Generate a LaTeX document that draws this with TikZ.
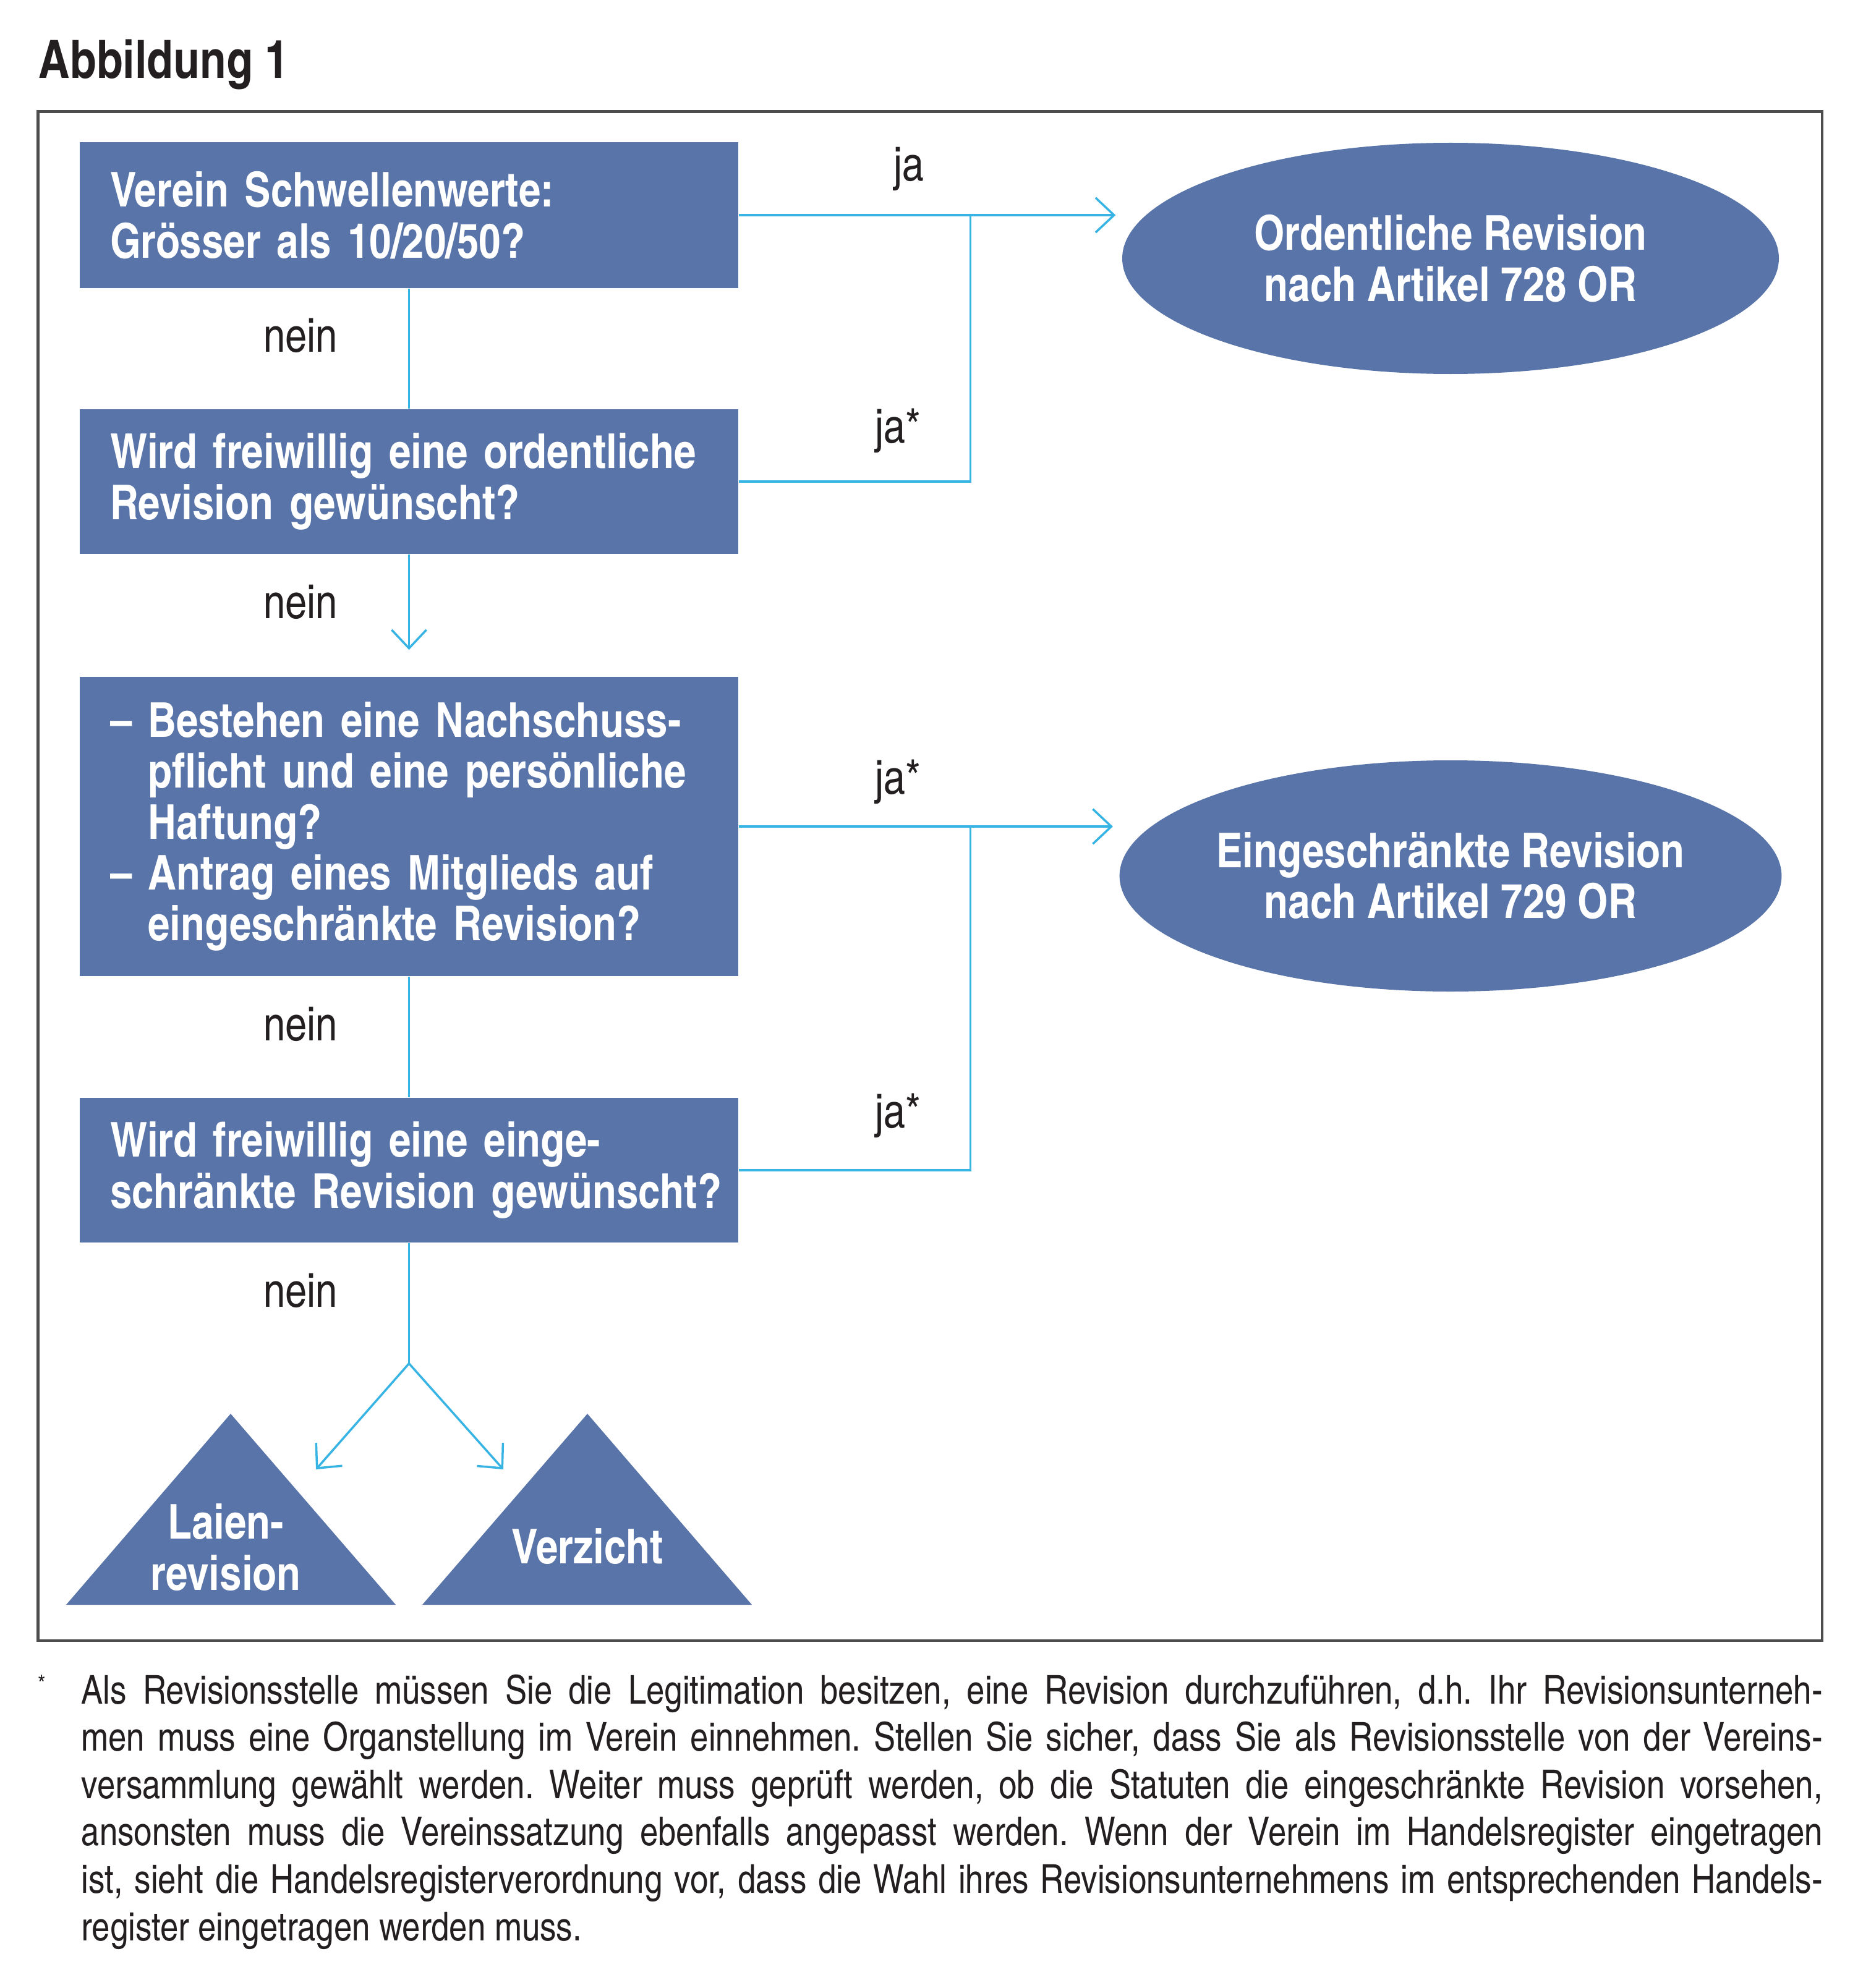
\documentclass[tikz,border=0pt]{standalone}
\usepackage{fontspec}
\setmainfont{TeX Gyre Heros Cn}
\usetikzlibrary{shapes.geometric, arrows.meta, positioning, calc}
\definecolor{boxblue}{RGB}{88,116,168}
\definecolor{linecyan}{RGB}{56,180,228}
\definecolor{framegray}{RGB}{77,77,77}
\definecolor{txtdark}{RGB}{35,31,32}
\newcommand\qfont{\fontsize{22.1}{23.4}\selectfont\bfseries}
\newcommand\lblfont{\fontsize{22}{24}\selectfont}
\newcommand\notefont{\fontsize{18.3}{21.8}\selectfont\frenchspacing}
\tikzset{
  qbox/.style={rectangle, fill=boxblue, text=white, minimum width=10.65cm,
    text width=9.67cm, inner xsep=0.49cm, align=left, font=\qfont},
  ellnode/.style={ellipse, fill=boxblue, text=white, minimum width=10.62cm,
    minimum height=3.74cm, inner sep=0pt, align=center, font=\qfont},
  trilabel/.style={text=white, align=center, font=\qfont, inner sep=0pt},
  lbl/.style={text=txtdark, font=\lblfont, inner sep=0pt},
  arrow/.style={-{Straight Barb[length=8.5pt,width=16pt]}, line width=1pt, color=linecyan},
  line/.style={line width=1pt, color=linecyan}
}

\begin{document}
\begin{tikzpicture}
  \useasboundingbox (0,0) rectangle (30.25,-32.16);
  % title and frame
  \node[font=\fontsize{24.3}{27}\selectfont\bfseries, text=txtdark, anchor=base west, inner sep=0pt]
    (title) at (0.62,-1.27) {Abbildung 1};
  \draw[framegray, line width=1.2pt] (0.615,-1.805) rectangle (29.47,-26.54);

  % questions
  \node[qbox, minimum height=2.36cm] (q1) at (6.615,-3.48)
    {Verein Schwellenwerte:\\ Grösser als 10/20/50?};
  \node[qbox, minimum height=2.34cm] (q2) at (6.615,-7.79)
    {Wird freiwillig eine ordentliche\\ Revision gewünscht?};
  \node[qbox, minimum height=4.84cm] (q3) at (6.615,-13.37)
    {– Bestehen eine Nachschuss-\\ \phantom{– }pflicht und eine persönliche\\
     \phantom{– }Haftung?\\ – Antrag eines Mitglieds auf\\ \phantom{– }eingeschränkte Revision?};
  \node[qbox, minimum height=2.34cm] (q4) at (6.615,-18.93)
    {Wird freiwillig eine einge-\\ \mbox{schränkte Revision gewünscht?}};

  % results
  \node[ellnode] (ord) at (23.46,-4.18) {Ordentliche Revision\\ nach Artikel 728 OR};
  \node[ellnode] (eing) at (23.46,-14.17) {Eingeschränkte Revision\\ nach Artikel 729 OR};

  \fill[boxblue] (1.07,-25.96) -- (3.73,-22.87) -- (6.40,-25.96) -- cycle;
  \fill[boxblue] (6.83,-25.96) -- (9.50,-22.87) -- (12.16,-25.96) -- cycle;
  \node[trilabel] (laien) at (3.65,-25.03) {Laien-\\revision};
  \node[trilabel] (verzicht) at (9.50,-25.02) {Verzicht};

  % connectors
  \coordinate (j1) at ($(q1.east)+(3.75,0)$);
  \coordinate (j2) at ($(q3.east)+(3.75,0)$);
  \draw[arrow] (q1.east) -- ([xshift=-0.1cm]ord.west |- q1.east);
  \draw[line] (q2.east) -| (j1);
  \draw[arrow] (q3.east) -- ([xshift=-0.1cm]eing.west |- q3.east);
  \draw[line] (q4.east) -| (j2);
  \draw[line] (q1.south) -- (q2.north);
  \draw[arrow] (q2.south) -- ([yshift=0.43cm]q3.north);
  \draw[line] (q3.south) -- (q4.north);
  \coordinate (split) at ($(q4.south)+(0,-1.95)$);
  \coordinate (tl) at (5.11,-23.77);
  \coordinate (tr) at (8.14,-23.77);
  \draw[line] (q4.south) -- (split);
  \draw[arrow] (split) -- (tl);
  \draw[arrow] (split) -- (tr);

  % labels
  \node[lbl] (ja1) at (14.70,-2.73) {ja};
  \node[lbl] (ja2) at (14.52,-6.97) {ja*};
  \node[lbl] (ja3) at (14.52,-12.65) {ja*};
  \node[lbl] (ja4) at (14.52,-18.05) {ja*};
  \node[lbl] (nein1) at (4.86,-5.43) {nein};
  \node[lbl] (nein2) at (4.86,-9.74) {nein};
  \node[lbl] (nein3) at (4.86,-16.57) {nein};
  \node[lbl] (nein4) at (4.86,-20.88) {nein};

  % footnote
  \node[font=\fontsize{11}{13}\selectfont, text=txtdark, inner sep=0pt] (star) at (0.68,-27.24) {*};
  \node[anchor=north west, text width=28.16cm, align=justify, font=\notefont,
    text=txtdark, inner sep=0pt] (note) at (1.31,-27.08)
    {Als Revisionsstelle müssen Sie die Legitimation besitzen, eine Revision durchzuführen, d.h. Ihr Revisionsunterneh-\linebreak
     men muss eine Organstellung im Verein einnehmen. Stellen Sie sicher, dass Sie als Revisionsstelle von der Vereins-\linebreak
     versammlung gewählt werden. Weiter muss geprüft werden, ob die Statuten die eingeschränkte Revision vorsehen,\linebreak
     ansonsten muss die Vereinssatzung ebenfalls angepasst werden. Wenn der Verein im Handelsregister eingetragen\linebreak
     ist, sieht die Handelsregisterverordnung vor, dass die Wahl ihres Revisionsunternehmens im entsprechenden Handels-\linebreak
     register eingetragen werden muss.};
\end{tikzpicture}
\end{document}
